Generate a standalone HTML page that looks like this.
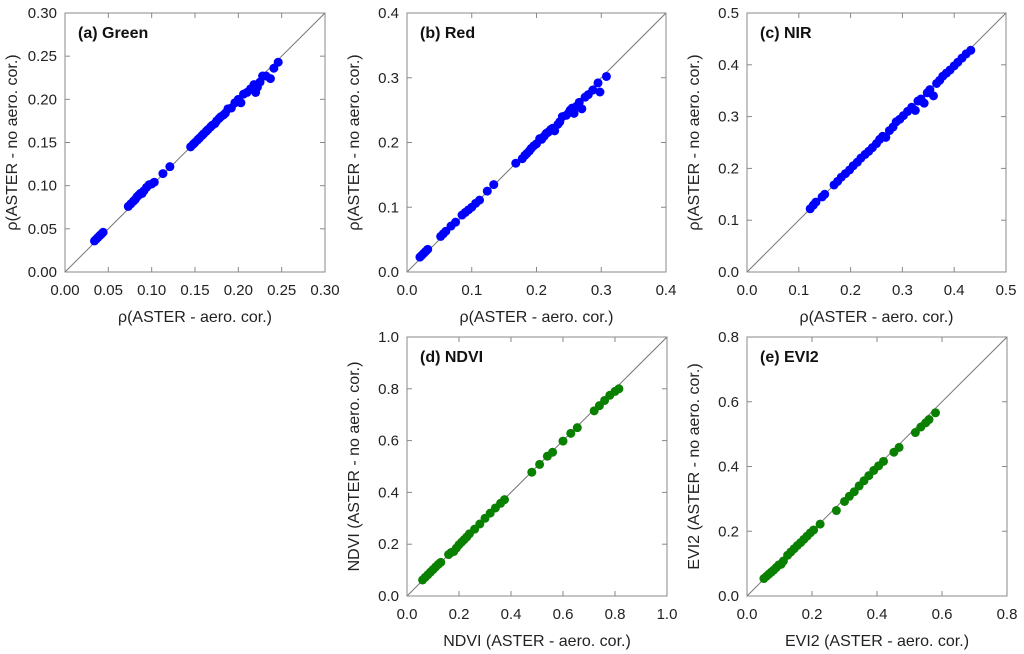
<!DOCTYPE html>
<html><head><meta charset="utf-8"><style>
html,body{margin:0;padding:0;background:#fff;}
svg{display:block;font-family:"Liberation Sans",sans-serif;}
</style></head><body>
<svg id="chart" width="1024" height="654" viewBox="0 0 1024 654" xmlns="http://www.w3.org/2000/svg"></svg>
<script>
// Panel (a) Green
const greenX=[0.034,0.036,0.038,0.040,0.042,0.044,0.073,0.076,0.079,0.081,0.083,0.085,0.087,0.089,0.091,0.094,0.097,0.100,0.103,0.113,0.121,0.145,0.148,0.150,0.153,0.155,0.158,0.160,0.163,0.165,0.168,0.170,0.173,0.175,0.178,0.180,0.183,0.185,0.188,0.192,0.196,0.200,0.203,0.206,0.210,0.214,0.218,0.220,0.222,0.225,0.228,0.232,0.237,0.241,0.246];
const greenY=[0.036,0.038,0.040,0.042,0.044,0.046,0.076,0.079,0.082,0.084,0.087,0.089,0.091,0.091,0.094,0.098,0.101,0.102,0.104,0.114,0.122,0.145,0.148,0.150,0.153,0.155,0.158,0.160,0.163,0.165,0.168,0.170,0.172,0.175,0.178,0.180,0.182,0.184,0.189,0.190,0.196,0.200,0.196,0.206,0.208,0.212,0.217,0.208,0.214,0.220,0.227,0.227,0.224,0.236,0.243];
// Panel (b) Red
const redX=[0.020,0.023,0.026,0.029,0.032,0.052,0.056,0.060,0.068,0.075,0.085,0.090,0.095,0.100,0.106,0.112,0.124,0.134,0.168,0.178,0.182,0.185,0.189,0.192,0.196,0.200,0.205,0.208,0.212,0.215,0.218,0.222,0.225,0.228,0.233,0.236,0.240,0.246,0.250,0.252,0.255,0.258,0.262,0.266,0.270,0.275,0.280,0.287,0.295,0.298,0.308];
const redY=[0.023,0.026,0.029,0.032,0.035,0.055,0.059,0.063,0.071,0.077,0.088,0.092,0.096,0.100,0.106,0.111,0.125,0.135,0.168,0.175,0.180,0.183,0.187,0.191,0.195,0.198,0.206,0.205,0.210,0.214,0.216,0.220,0.222,0.218,0.228,0.232,0.240,0.242,0.246,0.250,0.253,0.245,0.256,0.262,0.252,0.270,0.274,0.281,0.292,0.278,0.302];
// Panel (c) NIR
const nirX=[0.122,0.128,0.133,0.145,0.150,0.168,0.175,0.182,0.190,0.198,0.205,0.213,0.220,0.228,0.235,0.242,0.250,0.256,0.262,0.268,0.275,0.282,0.288,0.295,0.302,0.310,0.318,0.325,0.330,0.336,0.342,0.348,0.353,0.360,0.366,0.372,0.378,0.385,0.392,0.400,0.407,0.415,0.423,0.432];
const nirY=[0.122,0.129,0.135,0.145,0.150,0.168,0.175,0.183,0.190,0.197,0.205,0.212,0.220,0.227,0.233,0.240,0.248,0.256,0.262,0.260,0.273,0.280,0.290,0.295,0.302,0.310,0.318,0.312,0.330,0.334,0.326,0.346,0.352,0.340,0.364,0.370,0.378,0.384,0.390,0.398,0.405,0.413,0.421,0.428];
// Panel (d) NDVI
const ndviX=[0.060,0.070,0.080,0.090,0.100,0.110,0.120,0.130,0.160,0.170,0.180,0.190,0.200,0.210,0.220,0.230,0.240,0.260,0.280,0.300,0.320,0.340,0.360,0.375,0.480,0.510,0.540,0.560,0.600,0.630,0.655,0.720,0.740,0.760,0.780,0.800,0.815];
const ndviY=[0.062,0.072,0.082,0.092,0.102,0.112,0.122,0.130,0.160,0.168,0.172,0.185,0.198,0.208,0.218,0.228,0.240,0.258,0.278,0.300,0.320,0.340,0.358,0.372,0.478,0.508,0.540,0.555,0.598,0.628,0.650,0.715,0.735,0.755,0.775,0.790,0.800];
// Panel (e) EVI2
const evi2X=[0.052,0.060,0.068,0.075,0.082,0.090,0.098,0.105,0.112,0.125,0.135,0.145,0.155,0.165,0.175,0.185,0.195,0.205,0.225,0.275,0.300,0.315,0.330,0.345,0.360,0.375,0.390,0.405,0.420,0.452,0.468,0.518,0.535,0.550,0.560,0.580];
const evi2Y=[0.054,0.061,0.068,0.074,0.080,0.088,0.096,0.098,0.108,0.126,0.136,0.146,0.156,0.165,0.175,0.185,0.195,0.204,0.222,0.264,0.292,0.308,0.322,0.340,0.356,0.372,0.388,0.402,0.416,0.444,0.459,0.505,0.522,0.535,0.545,0.566];

const ticksA=[0,0.05,0.10,0.15,0.20,0.25,0.30];
const ticksB=[0,0.1,0.2,0.3,0.4];
const ticksC=[0,0.1,0.2,0.3,0.4,0.5];
const ticksD=[0,0.2,0.4,0.6,0.8,1.0];
const ticksE=[0,0.2,0.4,0.6,0.8];

const NS="http://www.w3.org/2000/svg";
const svg=document.getElementById('chart');
function mk(tag,attrs,parent){const e=document.createElementNS(NS,tag);for(const k in attrs)e.setAttribute(k,attrs[k]);(parent||svg).appendChild(e);return e;}

function panel(id,L,T,W,H,ticks,dec,xs,ys,color,label,xt,yt){
  const g=mk('g',{});
  
  
  const max=ticks[ticks.length-1];
  const sx=v=>L+v/max*W, sy=v=>T+H-v/max*H;
  const frame=mk('rect',{x:L,y:T,width:W,height:H,fill:'none',stroke:'#888','stroke-width':1},g);
  
  
  const diag=mk('line',{x1:sx(0),y1:sy(0),x2:sx(max),y2:sy(max),stroke:'#777','stroke-width':1},g);
  
  
  ticks.forEach(t=>{
    const x=sx(t),y=sy(t);
    mk('line',{x1:x,y1:T+H,x2:x,y2:T+H-5,stroke:'#888'},g);
    mk('line',{x1:x,y1:T,x2:x,y2:T+5,stroke:'#888'},g);
    mk('line',{x1:L,y1:y,x2:L+5,y2:y,stroke:'#888'},g);
    mk('line',{x1:L+W,y1:y,x2:L+W-5,y2:y,stroke:'#888'},g);
    const xl=mk('text',{x:x,y:T+H+23,'text-anchor':'middle','font-size':15,fill:'#222'},g);
    xl.textContent=t.toFixed(dec);
    
    
    const yl=mk('text',{x:L-8,y:y+5,'text-anchor':'end','font-size':15,fill:'#222'},g);
    yl.textContent=t.toFixed(dec);
    
    
  });
  for(let i=0;i<xs.length;i++){
    const c=mk('circle',{cx:sx(xs[i]),cy:sy(ys[i]),r:4.5,fill:color},g);
    
    
  }
  const lab=mk('text',{x:L+13,y:T+25,'font-size':16,'font-weight':'bold',fill:'#111'},g);
  lab.textContent=label;
  
  
  const xa=mk('text',{x:L+W/2,y:T+H+50,'text-anchor':'middle','font-size':16,fill:'#222'},g);
  xa.textContent=xt;
  
  
  const ya=mk('text',{x:0,y:0,'text-anchor':'middle','font-size':16,fill:'#222',transform:`translate(${L-48},${T+H/2}) rotate(-90)`},g);
  ya.textContent=yt;
  
  
}
const rx='ρ(ASTER - aero. cor.)', ry='ρ(ASTER - no aero. cor.)';
panel('green',65,13,260,259,ticksA,2,greenX,greenY,'#0000ff','(a) Green',rx,ry);
panel('red',407,13,259,259,ticksB,1,redX,redY,'#0000ff','(b) Red',rx,ry);
panel('nir',747,13,259,259,ticksC,1,nirX,nirY,'#0000ff','(c) NIR',rx,ry);
panel('ndvi',407,337,260,259,ticksD,1,ndviX,ndviY,'#0a8000','(d) NDVI','NDVI (ASTER - aero. cor.)','NDVI (ASTER - no aero. cor.)');
panel('evi2',747,337,260,259,ticksE,1,evi2X,evi2Y,'#0a8000','(e) EVI2','EVI2 (ASTER - aero. cor.)','EVI2 (ASTER - no aero. cor.)');
</script>
</body></html>
